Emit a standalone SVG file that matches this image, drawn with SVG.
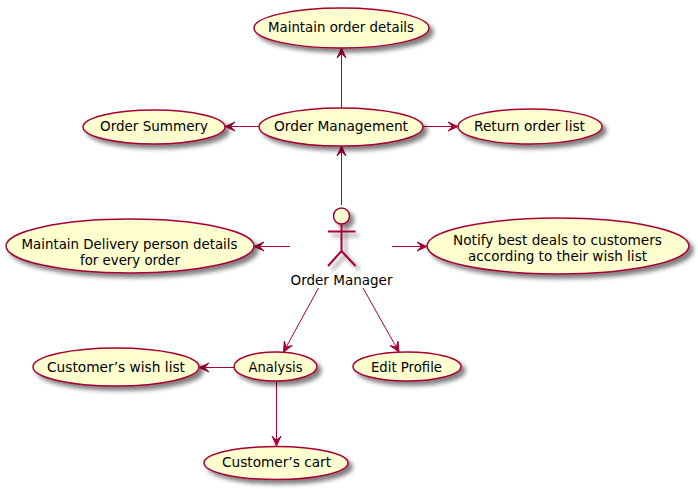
<svg xmlns="http://www.w3.org/2000/svg" width="698" height="489" viewBox="0 0 698 489">
<style>
.u{fill:#FEFECE;stroke:#A80036;stroke-width:1.5}
.c{fill:none;stroke:#A80036;stroke-width:1;marker-end:url(#a)}
.l{fill:none;stroke:#A80036;stroke-width:2}
text{font-family:"DejaVu Sans",sans-serif;font-size:14px;fill:#000;text-anchor:middle}
</style>
<defs>
<filter id="s" x="-20%" y="-40%" width="140%" height="190%">
<feGaussianBlur in="SourceAlpha" stdDeviation="2" result="b"/>
<feColorMatrix in="b" type="matrix" values="0 0 0 0 0 0 0 0 0 0 0 0 0 0 0 0 0 0 0.5 0" result="d"/>
<feOffset in="d" dx="4" dy="4" result="o"/>
<feMerge><feMergeNode in="o"/><feMergeNode in="SourceGraphic"/></feMerge>
</filter>
<marker id="a" markerUnits="userSpaceOnUse" markerWidth="14" markerHeight="14" refX="11.500" refY="6" orient="auto">
<path d="M11.500,6 L1.500,1.500 L6,6 L1.500,10.500 Z" fill="#A80036" stroke="#A80036" stroke-width="1"/>
</marker>
</defs>
<g id="connectors">
<path class="c" d="M341.500,108 L341.500,48"/>
<path class="c" d="M341.500,205 L341.500,146"/>
<path class="c" d="M259,126.500 L225,126.500"/>
<path class="c" d="M423,126.500 L458,126.500"/>
<path class="c" d="M290,246.500 L254,246.500"/>
<path class="c" d="M392,246.500 L427,246.500"/>
<path class="c" d="M318.500,288 L283.500,352"/>
<path class="c" d="M363,288 L399,352"/>
<path class="c" d="M234,367.500 L199,367.500"/>
<path class="c" d="M276.500,381 L276.500,446"/>
</g>
<g id="actor">
<g filter="url(#s)">
<circle class="u" cx="341.500" cy="216" r="8"/>
<path class="l" d="M341.500,224 V251 M328,231.500 H355.500 M341.500,251 L328,266 M341.500,251 L355.500,266"/>
</g>
<text x="341.500" y="285" textLength="102" lengthAdjust="spacingAndGlyphs">Order Manager</text>
</g>
<g id="maintain-order-details"><ellipse class="u" cx="341.500" cy="28" rx="87.500" ry="20" filter="url(#s)"/><text x="341" y="32" textLength="146" lengthAdjust="spacingAndGlyphs">Maintain order details</text></g>
<g id="order-management"><ellipse class="u" cx="341" cy="127" rx="82" ry="19" filter="url(#s)"/><text x="341" y="131" textLength="134" lengthAdjust="spacingAndGlyphs">Order Management</text></g>
<g id="order-summery"><ellipse class="u" cx="154" cy="127" rx="71" ry="17" filter="url(#s)"/><text x="154" y="131" textLength="108" lengthAdjust="spacingAndGlyphs">Order Summery</text></g>
<g id="return-order-list"><ellipse class="u" cx="530" cy="126.500" rx="72" ry="17.500" filter="url(#s)"/><text x="529.500" y="131" textLength="111" lengthAdjust="spacingAndGlyphs">Return order list</text></g>
<g id="maintain-delivery"><ellipse class="u" cx="130" cy="246" rx="124" ry="27" filter="url(#s)"/><text x="129.500" y="249" textLength="216" lengthAdjust="spacingAndGlyphs">Maintain Delivery person details</text><text x="130" y="265" textLength="100" lengthAdjust="spacingAndGlyphs">for every order</text></g>
<g id="notify-deals"><ellipse class="u" cx="558" cy="246" rx="131" ry="28" filter="url(#s)"/><text x="557.500" y="245" textLength="209" lengthAdjust="spacingAndGlyphs">Notify best deals to customers</text><text x="557.500" y="261" textLength="179" lengthAdjust="spacingAndGlyphs">according to their wish list</text></g>
<g id="analysis"><ellipse class="u" cx="275.500" cy="366.500" rx="41.500" ry="14.500" filter="url(#s)"/><text x="275.500" y="372" textLength="54" lengthAdjust="spacingAndGlyphs">Analysis</text></g>
<g id="edit-profile"><ellipse class="u" cx="407" cy="366.500" rx="54" ry="14.500" filter="url(#s)"/><text x="406.500" y="372" textLength="71" lengthAdjust="spacingAndGlyphs">Edit Profile</text></g>
<g id="wish-list"><ellipse class="u" cx="116" cy="367" rx="83" ry="19" filter="url(#s)"/><text x="116" y="372" textLength="138" lengthAdjust="spacingAndGlyphs">Customer’s wish list</text></g>
<g id="cart"><ellipse class="u" cx="276" cy="463" rx="72" ry="16.500" filter="url(#s)"/><text x="276.500" y="467" textLength="109" lengthAdjust="spacingAndGlyphs">Customer’s cart</text></g>
</svg>
